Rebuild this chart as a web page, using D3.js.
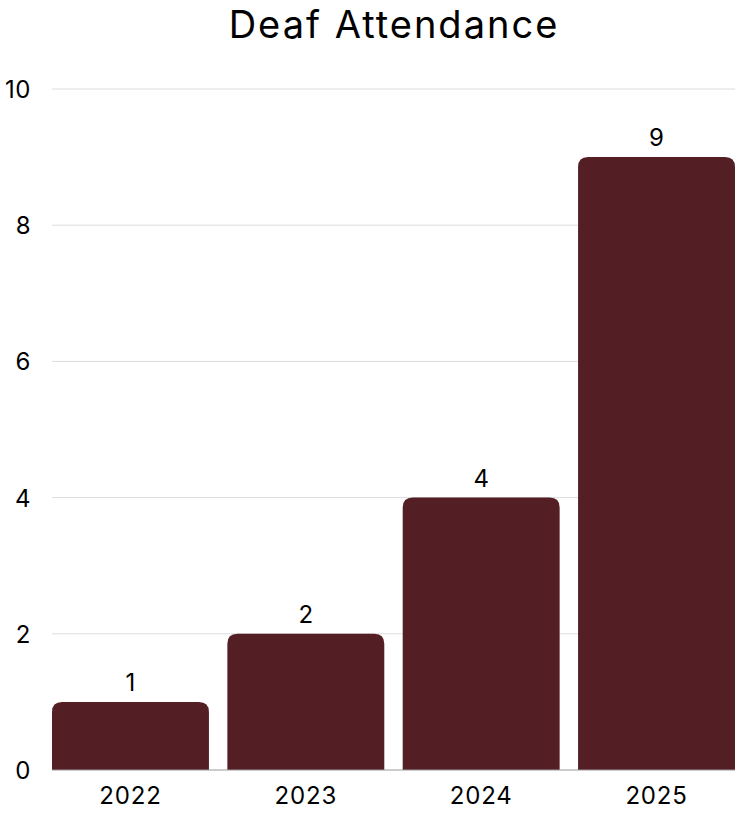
<!DOCTYPE html>
<html>
<head>
<meta charset="utf-8">
<script src="https://cdn.jsdelivr.net/npm/d3@7"></script>
<style>
  body { margin: 0; background: #fff; }
  text { font-family: Inter, "Open Sans", sans-serif; fill: #000; }
</style>
</head>
<body>
<svg id="chart" width="740" height="814"></svg>
<script>
// data
const years = ["2022", "2023", "2024", "2025"];
const attendance = [1, 2, 4, 9];
const yTicks = [0, 2, 4, 6, 8, 10];

const width = 740, height = 814;
const margin = {top: 89, right: 5, bottom: 44, left: 52};

const svg = d3.select("#chart");

const x = d3.scaleBand()
  .domain(years)
  .range([margin.left, width - margin.right])
  .paddingInner(0.105)
  .paddingOuter(0);

const y = d3.scaleLinear()
  .domain([0, 10])
  .range([height - margin.bottom, margin.top]);

// title
svg.append("text")
  .attr("x", 394)
  .attr("y", 38)
  .attr("text-anchor", "middle")
  .style("font-size", "38px")
  .style("letter-spacing", "2px")
  .text("Deaf Attendance");

// gridlines
svg.append("g")
  .selectAll("line")
  .data(yTicks.filter(d => d > 0))
  .enter()
    .append("line")
    .attr("x1", margin.left)
    .attr("x2", width - margin.right)
    .attr("y1", d => y(d))
    .attr("y2", d => y(d))
    .attr("stroke", "#dcdcdc")
    .attr("stroke-width", 1);

// y tick labels
svg.append("g")
  .selectAll("text")
  .data(yTicks)
  .enter()
    .append("text")
    .attr("x", 31)
    .attr("y", d => y(d) + 9)
    .attr("text-anchor", "end")
    .style("font-size", "24px")
    .style("letter-spacing", "0.5px")
    .text(d => d);

// bars with rounded tops
const r = 10;
function barPath(d, i) {
  const x0 = x(years[i]), w = x.bandwidth();
  const y0 = y(0), y1 = y(d);
  return `M${x0},${y0}V${y1 + r}Q${x0},${y1} ${x0 + r},${y1}H${x0 + w - r}Q${x0 + w},${y1} ${x0 + w},${y1 + r}V${y0}Z`;
}

svg.append("g")
  .selectAll("path")
  .data(attendance)
  .enter()
    .append("path")
    .attr("d", barPath)
    .attr("fill", "#531f24");

// baseline
svg.append("line")
  .attr("x1", margin.left)
  .attr("x2", width - margin.right)
  .attr("y1", y(0))
  .attr("y2", y(0))
  .attr("stroke", "#999")
  .attr("stroke-width", 1);

// value labels
svg.append("g")
  .selectAll("text")
  .data(attendance)
  .enter()
    .append("text")
    .attr("x", (d, i) => x(years[i]) + x.bandwidth() / 2)
    .attr("y", d => y(d) - 11)
    .attr("text-anchor", "middle")
    .style("font-size", "24px")
    .text(d => d);

// x labels
svg.append("g")
  .selectAll("text")
  .data(years)
  .enter()
    .append("text")
    .attr("x", d => x(d) + x.bandwidth() / 2)
    .attr("y", 804)
    .attr("text-anchor", "middle")
    .style("font-size", "24px")
    .style("letter-spacing", "0.8px")
    .text(d => d);
</script>
</body>
</html>
